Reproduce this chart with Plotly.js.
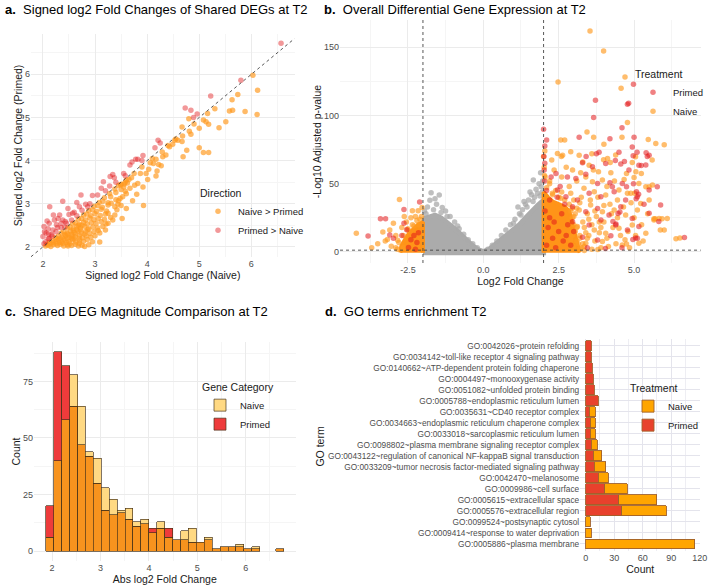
<!DOCTYPE html>
<html><head><meta charset="utf-8">
<script src="https://cdn.plot.ly/plotly-3.0.1.min.js"></script>
<style>html,body{margin:0;padding:0;background:#fff}#chart{width:709px;height:586px}</style>
</head><body><div id="chart"></div>
<script>
// ---------------- Panel a: signed log2FC shared DEGs (Naive x vs Primed y) ----------------
const A_NAIVE_GT_PRIMED = [
[6.12,5.63],[6.03,5.98],[6.11,5.07],[5.88,5.14],[5.74,5.53],[5.63,5.41],[5.58,5.15],[5.64,5.17],[5.51,4.90],[5.38,4.76],
[5.16,5.09],[5.13,4.90],[5.18,4.84],[5.08,4.94],[5.00,4.75],[4.81,4.68],[4.84,4.61],[4.80,4.97],[4.67,4.78],[4.68,4.57],
[4.67,4.44],[4.59,4.47],[4.76,4.24],[4.69,4.09],[5.00,4.30],[5.08,4.19],[5.18,4.19],[4.49,4.38],[4.53,4.47],[4.43,4.32],
[4.30,4.09],[4.36,4.13],[4.29,4.20],[4.17,4.03],[4.12,3.93],[4.06,3.95],[4.03,3.80],[4.22,3.91],[4.27,3.88],[4.19,3.76],
[4.17,3.64],[3.98,3.70],[4.01,3.56],[3.87,3.70],[3.82,3.47],[3.92,3.39],[3.76,3.43],[3.67,3.36],[3.65,3.56],[3.58,3.50],
[3.55,3.39],[3.58,3.29],[3.93,2.96],[3.80,3.22],[3.72,3.07],[3.53,3.16],[3.40,3.09],[3.44,2.99],[3.60,2.89],[3.52,2.66],
[3.31,3.01],[3.25,2.78],[3.34,2.62],[3.09,2.32],[3.09,2.11],[3.21,2.53],[3.20,2.39],[2.80,2.01],[2.70,2.08],[2.48,2.02],
[4.40,4.35],[4.55,4.50],[4.90,4.85],[5.30,5.20],[3.50,3.45],[3.60,3.55],[3.70,3.60],[3.90,3.85],[4.10,4.05],[3.45,3.42],
[3.62,3.48],[3.75,3.70],
[2.05,2.02],[2.10,2.04],[2.15,2.01],[2.20,2.05],[2.28,2.03],[2.33,2.06],[2.40,2.02],[2.47,2.05],[2.55,2.03],[2.62,2.06],
[2.68,2.02],[2.75,2.04],[2.88,2.05],
[2.12,2.10],[2.18,2.14],[2.25,2.12],[2.30,2.16],[2.36,2.11],[2.42,2.15],[2.50,2.12],[2.57,2.17],[2.63,2.11],[2.70,2.15],
[2.78,2.13],[2.85,2.17],[2.95,2.12],
[2.24,2.21],[2.30,2.25],[2.37,2.22],[2.44,2.26],[2.50,2.21],[2.56,2.25],[2.62,2.23],[2.70,2.27],[2.76,2.21],[2.83,2.25],
[2.92,2.22],[3.00,2.26],
[2.35,2.32],[2.40,2.35],[2.46,2.31],[2.53,2.36],[2.60,2.33],[2.67,2.37],[2.74,2.32],[2.82,2.36],[2.90,2.31],[2.98,2.35],[3.06,2.38],
[2.47,2.43],[2.52,2.46],[2.58,2.42],[2.65,2.47],[2.72,2.44],[2.80,2.48],[2.88,2.42],[2.96,2.46],[3.05,2.44],[3.15,2.47],
[2.57,2.54],[2.62,2.56],[2.70,2.52],[2.78,2.57],[2.85,2.53],[2.93,2.56],[3.02,2.54],[3.12,2.58],[3.25,2.55],
[2.68,2.64],[2.74,2.66],[2.82,2.62],[2.90,2.67],[2.98,2.63],[3.06,2.66],[3.18,2.64],[3.30,2.68],
[2.78,2.74],[2.84,2.76],[2.92,2.72],[3.00,2.77],[3.10,2.73],[3.20,2.76],[3.38,2.74],
[2.88,2.84],[2.95,2.86],[3.03,2.82],[3.12,2.87],[3.22,2.83],[3.42,2.86],
[2.98,2.94],[3.05,2.96],[3.14,2.92],[3.25,2.97],[3.38,2.93],[3.50,2.96],
[3.08,3.03],[3.15,3.06],[3.25,3.02],[3.45,3.07],
[3.18,3.14],[3.30,3.16],[3.48,3.12],
[3.28,3.24],[3.40,3.26],[3.60,3.23],
[3.38,3.34],[3.50,3.33],[3.49,3.44],[3.56,3.46],
[2.08,2.06],[2.14,2.08],[2.20,2.10],[2.25,2.07],[2.32,2.10],[2.38,2.08],[2.45,2.10],[2.52,2.08],[2.27,2.18],[2.33,2.20],
[2.40,2.18],[2.47,2.20],[2.55,2.20],[2.60,2.18],[2.42,2.28],[2.48,2.30],[2.55,2.29],[2.63,2.30],[2.70,2.20],[2.58,2.38],
[2.65,2.40],[2.72,2.39],[2.80,2.30],[2.68,2.50],[2.75,2.50],[2.86,2.40]
];
const A_PRIMED_GT_NAIVE = [
[6.57,6.72],[5.80,5.86],[5.22,5.50],[4.73,5.22],[4.84,5.17],[4.96,5.08],[4.89,5.00],[4.21,4.47],[4.25,4.41],[3.78,4.03],
[3.82,4.03],[3.92,4.12],[3.71,3.97],[3.67,3.90],[3.34,3.68],[3.37,3.60],[3.58,3.65],[3.16,3.51],[3.28,3.41],[3.29,3.63],
[2.95,3.19],[3.12,3.36],[2.73,3.20],[2.65,3.03],[2.70,2.93],[2.38,3.06],[2.57,2.78],[2.32,2.74],[2.48,2.89],[2.13,2.93],
[2.20,2.74],[2.29,2.66],[2.43,2.59],[2.02,2.47],[2.06,2.32],[2.19,2.39],[2.26,2.51],[2.00,2.24],[2.10,2.19],[2.16,2.28],
[2.82,2.99],[2.86,2.93],
[2.05,2.12],[2.12,2.20],[2.18,2.25],[2.25,2.35],[2.35,2.45],[2.45,2.55],[2.55,2.62],[2.65,2.72],[2.75,2.85],[2.90,3.00],
[3.05,3.20],[2.03,2.35],[2.10,2.42],[2.35,2.55],[2.50,2.75],[2.60,2.80],[2.12,2.55],[2.22,2.62],[2.08,2.60],[2.28,2.45],
[2.38,2.62],[3.20,3.30],[3.40,3.50],[3.55,3.70],[3.90,4.00],[4.15,4.30],[2.02,2.07],[2.11,2.30],[2.42,2.46]
];

// ---------------- Panel b: volcano (log2FC, -log10 padj) ----------------
const B_NS_CORE_X = [-2.0,-1.8,-1.6,-1.4,-1.2,-1.0,-0.8,-0.6,-0.4,-0.2,0,0.2,0.4,0.6,0.8,1.0,1.2,1.4,1.6,1.8,2.0,2.0,-2.0];
const B_NS_CORE_Y = [24,26,27,25,22,18,14,9.5,5.5,2,0.3,2,5.5,9.5,13,16,20,25,30,34,38,-0.5,-0.5];
const B_NS_POINTS = [
[-1.73,43.4],[-1.46,41.7],[-1.77,37.8],[-1.60,39],[-1.36,32.5],[-1.55,35],[-1.85,33],[-1.95,30],[-1.25,30],[-1.10,26],
[-0.95,22],[-0.80,17],[-0.65,13],[-1.65,31],[-1.40,29],[-0.50,9],[-0.35,6],[-0.20,3],[-1.90,28],[-1.20,26],[-0.85,19],
[1.66,52.7],[1.92,47.8],[1.96,44],[1.90,58],[1.85,50],[1.75,46],[1.60,42],[1.50,38],[1.40,35],[1.30,31],[1.20,28],
[1.05,24],[0.90,20],[0.75,16],[0.60,12],[0.45,8],[0.30,5],[0.15,2],[1.80,43],[1.70,40],[1.97,52],[1.55,44],[1.35,37],
[1.15,33],[1.00,21],[1.25,27],[1.45,33],[1.65,37],[1.88,41]
];
const B_NAIVE_CORE_R_X = [2.0,2.0,2.15,2.3,2.5,2.7,2.85,2.95,3.05,3.15,3.2];
const B_NAIVE_CORE_R_Y = [-0.5,44,40,37,35,33,30,20,10,3,-0.5];
const B_NAIVE_CORE_L_X = [-2.0,-2.0,-2.15,-2.3,-2.45,-2.6,-2.72,-2.75];
const B_NAIVE_CORE_L_Y = [-0.5,22,20,17,14,9,4,-0.5];
const B_NAIVE_POINTS = [
[3.54,161.9],[3.99,147.3],[2.48,124.6],[4.70,128.3],[4.57,120.0],[4.78,94.9],[5.47,82.4],[5.72,79.5],[6.00,78.5],[2.57,82],
[2.70,82],[3.44,88],[4.60,84],[3.66,84],[4.00,79],[2.04,74],[2.00,70],[2.27,67.4],[2.59,70],[3.18,70.8],[3.99,67.5],
[4.21,65.6],[4.94,65.5],[5.24,57.5],[5.50,47.8],[5.66,24.4],[5.70,24.4],[5.93,24.4],[5.87,16],[6.39,9.7],[6.52,10.2],
[4.75,5.8],[5.02,43],[2.46,72.2],[2.63,70.9],[2.90,73.4],[4.39,71],[4.12,68.5],[5.05,69.8],[5.60,67.3],[3.51,63.6],
[3.82,58.7],[4.23,58],[4.75,57.5],[5.06,58.7],[2.96,60],[3.23,58],[3.62,51.4],[3.95,52.7],[4.67,53.1],[5.00,54.6],
[5.16,50.2],[5.39,47.8],[5.61,49],[4.78,43],[2.29,43],[2.57,39.3],[2.90,43],[3.34,46.6],[3.68,44.1],[4.06,41.7],
[4.50,45.4],[4.89,43],[5.22,35.6],[5.50,38.1],[3.18,30.7],[3.56,34.4],[3.95,29.5],[4.34,30.7],[4.72,27],[5.11,30.7],
[5.66,23.4],[5.83,24.6],[6.00,16],[6.10,24.6],[3.12,18.6],[3.68,16.1],[4.06,13.7],[4.50,17.4],[4.94,19.8],[5.39,13.7],
[2.90,8.8],[3.40,6.4],[3.95,7.6],[4.61,5.1],[5.16,6.4],[3.20,2.5],[3.80,1.8],
[2.95,25],[3.05,15],[3.10,32],[3.20,10],[3.30,22],[3.35,4],[3.45,28],[3.50,12],[3.60,20],[3.70,8],[3.75,26],[3.85,14],
[3.90,3],[4.00,22],[4.10,10],[4.20,35],[4.30,18],[4.40,6],[4.45,25],[4.55,12],[4.65,33],[4.80,15],[4.85,3],[5.00,25],
[5.05,12],[5.25,20],[5.30,8],[5.45,28],[3.00,38],[3.25,40],[3.55,38],[3.80,40],[4.10,48],[4.35,52],[2.85,48],[3.10,52],
[3.40,55],[3.65,60],[2.60,55],[2.75,62],[3.30,66],[3.60,72],[2.35,60],[2.20,52],[3.00,4],[3.15,6],[3.40,14],[3.60,2],
[3.90,18],[4.15,4],[4.25,28],[4.70,9],[2.95,12],[3.05,28],[3.20,36],[3.35,18],[3.50,24],[3.70,30],[4.00,34],[3.85,22],
[4.45,38],[4.90,36],[2.90,30],[3.00,20],[3.10,8],[3.25,3],[2.92,2],[3.45,10],[2.02,62],[2.03,56],
[2.10,47],[2.30,42],[2.50,40],[2.70,38],[2.85,35],[3.00,26],[3.10,18],[3.20,12],[3.30,6],[3.35,1],[2.20,50],[2.40,45],
[2.60,44],[2.05,55],[2.95,32],
[-4.21,13.7],[-2.78,38.5],[-2.35,30.2],[-2.16,30.2],[-2.03,32.6],[-3.33,14.6],[-2.98,21],[-3.10,16],[-3.18,9.1],[-3.05,4.2],
[-2.62,26],[-2.84,8.6],[-3.50,6],[-2.90,12],[-2.70,18],[-2.55,22],[-2.40,25],[-2.25,26],[-2.10,24],[-3.70,3],[-2.65,3],
[-2.90,3],[-3.25,8],[-2.50,17],[-2.30,19],[-2.15,20],[-2.05,26],[-2.20,23],[-2.35,20],[-2.50,16],[-2.65,12],[-2.80,7],[-2.85,2]
];
const B_PRIMED_POINTS = [
[4.98,122.9],[3.72,111.2],[4.78,108.3],[4.82,109],[3.66,98.5],[2.00,90],[4.60,91],[5.00,84],[3.18,84],[4.20,83],
[2.10,82],[2.04,77.7],[4.94,77],[5.40,72.7],[5.50,70.8],[5.24,63.3],[5.39,63.8],[4.97,70.5],[3.75,72],[3.41,70],
[4.38,67],[4.68,66.3],[5.33,35],[5.82,22.4],[4.96,9.2],[5.05,10.2],[5.15,42.3],[5.07,39],[4.98,50],[4.53,29.2],
[4.47,28.2],[4.30,22.4],[4.40,20.4],[3.84,73],[4.50,73],[5.10,73],[5.44,70],[3.29,65.3],[3.62,62.4],[4.06,64.9],
[4.56,64.4],[4.83,60],[5.16,63.6],[2.41,57.5],[2.79,55],[3.07,53.9],[3.40,57],[3.79,50.2],[4.20,50.7],[4.28,47.8],
[4.61,50.2],[4.75,47.8],[5.08,44.1],[5.50,45.4],[5.77,47.8],[2.46,45.4],[2.74,40.5],[3.12,38.1],[3.51,43],[3.90,40.5],
[4.34,44.1],[4.72,38.1],[5.11,40.5],[2.96,33.2],[3.40,29.5],[3.79,31.9],[4.17,27],[4.56,33.2],[4.94,24.6],[5.50,28.3],
[5.88,34.4],[2.96,22.2],[3.51,19.8],[3.90,23.4],[4.39,19.8],[4.78,16],[5.16,18.6],[3.29,10.8],[3.79,8.8],[4.23,11.8],
[5.11,10.1],[6.67,10.5],[3.45,3],[4.05,2.5],[4.60,3],
[2.05,30],[2.10,45],[2.20,38],[2.35,22],[2.50,15],[2.60,28],[2.30,10],[2.15,18],[2.70,35],[2.45,40],[2.03,52],[2.02,60],
[2.04,65],[2.25,55],[2.10,5],[2.40,3],[2.65,8],[2.80,20],[2.55,48],[2.01,70],[2.20,25],[2.75,12],[2.90,5],[3.00,15],
[-3.82,11.7],[-3.41,24.4],[-3.24,24.4],[-2.63,31.2],[-2.11,36.6],[-2.48,3.2],[-2.63,21.1],[-2.54,16.2],[-2.98,10],[-2.30,12],
[-2.20,7],[-2.40,9],[-2.15,14],[-2.70,12],[-3.10,12.5],[-2.25,2]
];
const FC_THRESHOLD = 2;
const PADJ_THRESHOLD_LOG = 1.3;

// ---------------- Panel c: histogram of |log2FC| ----------------
const C_BIN_CENTERS = [1.952,2.116,2.279,2.443,2.607,2.770,2.934,3.098,3.261,3.425,3.589,3.752,3.916,4.080,4.244,
  4.407,4.571,4.735,4.898,5.062,5.226,5.389,5.553,5.717,5.880,6.044,6.208,6.371,6.535,6.699];
const C_BIN_WIDTH = 0.1637;
const C_NAIVE  = [6,40,58,78,64,44,41,28,23,18,19,13,14,8,13,6,5,9,10,4,6,1,2,2,3,1,2,0,0,1];
const C_PRIMED = [20,88,82,64,47,42,30,18,16,17,14,11,12,10,10,10,5,5,4,4,5,1,2,2,2,1,1,0,0,1];

// ---------------- Panel d: GO terms ----------------
const GO_TERMS = [
"GO:0042026~protein refolding",
"GO:0034142~toll-like receptor 4 signaling pathway",
"GO:0140662~ATP-dependent protein folding chaperone",
"GO:0004497~monooxygenase activity",
"GO:0051082~unfolded protein binding",
"GO:0005788~endoplasmic reticulum lumen",
"GO:0035631~CD40 receptor complex",
"GO:0034663~endoplasmic reticulum chaperone complex",
"GO:0033018~sarcoplasmic reticulum lumen",
"GO:0098802~plasma membrane signaling receptor complex",
"GO:0043122~regulation of canonical NF-kappaB signal transduction",
"GO:0033209~tumor necrosis factor-mediated signaling pathway",
"GO:0042470~melanosome",
"GO:0009986~cell surface",
"GO:0005615~extracellular space",
"GO:0005576~extracellular region",
"GO:0099524~postsynaptic cytosol",
"GO:0009414~response to water deprivation",
"GO:0005886~plasma membrane"];
const GO_PRIMED = [6,6,7,8,9,13,4,5,5,6,8,9,13,20,35,38,0,0,0];
const GO_NAIVE  = [0,0,0,0,0,0,6,5,5,6,9,12,11,24,40,47,5,6,115];

// ---------------- helpers ----------------
const W = 709, H = 586;
const fx = p => p / W, fy = p => 1 - p / H;
const xs = pts => pts.map(p => p[0]), ys = pts => pts.map(p => p[1]);
const nz = arr => arr.map(v => v > 0 ? v : null);
const FONT = 'Liberation Sans, Arial, Helvetica, sans-serif';
const ORANGE = '#FF9A1F', RED = '#E31A1C', GREY = '#A9A9A9';

const A_XR = [1.77, 6.83], A_YR = [1.765, 6.935];

const traces = [];
// a
traces.push({type:'scatter', mode:'markers', x:xs(A_NAIVE_GT_PRIMED), y:ys(A_NAIVE_GT_PRIMED), xaxis:'x', yaxis:'y',
  name:'Naive > Primed', legend:'legend', marker:{color:ORANGE, size:5.5, opacity:0.68}, hoverinfo:'skip'});
traces.push({type:'scatter', mode:'markers', x:xs(A_PRIMED_GT_NAIVE), y:ys(A_PRIMED_GT_NAIVE), xaxis:'x', yaxis:'y',
  name:'Primed > Naive', legend:'legend', marker:{color:RED, size:5.5, opacity:0.45}, hoverinfo:'skip'});
// b
traces.push({type:'scatter', mode:'lines', x:B_NS_CORE_X, y:B_NS_CORE_Y, fill:'toself', fillcolor:'#ABABAB',
  line:{color:'#ABABAB', width:5}, xaxis:'x2', yaxis:'y2', showlegend:false, hoverinfo:'skip'});
traces.push({type:'scatter', mode:'markers', x:xs(B_NS_POINTS), y:ys(B_NS_POINTS), xaxis:'x2', yaxis:'y2',
  showlegend:false, marker:{color:GREY, size:5.5, opacity:0.75}, hoverinfo:'skip'});
traces.push({type:'scatter', mode:'lines', x:B_NAIVE_CORE_R_X, y:B_NAIVE_CORE_R_Y, fill:'toself', fillcolor:'#FF9418',
  line:{color:'#FF9418', width:4}, xaxis:'x2', yaxis:'y2', showlegend:false, hoverinfo:'skip'});
traces.push({type:'scatter', mode:'lines', x:B_NAIVE_CORE_L_X, y:B_NAIVE_CORE_L_Y, fill:'toself', fillcolor:'#FF9418',
  line:{color:'#FF9418', width:4}, xaxis:'x2', yaxis:'y2', showlegend:false, hoverinfo:'skip'});
traces.push({type:'scatter', mode:'markers', x:xs(B_NAIVE_POINTS), y:ys(B_NAIVE_POINTS), xaxis:'x2', yaxis:'y2',
  name:'Naive', legend:'legend2', marker:{color:ORANGE, size:5.5, opacity:0.65}, hoverinfo:'skip'});
traces.push({type:'scatter', mode:'markers', x:xs(B_PRIMED_POINTS), y:ys(B_PRIMED_POINTS), xaxis:'x2', yaxis:'y2',
  name:'Primed', legend:'legend2', marker:{color:RED, size:5.5, opacity:0.55}, hoverinfo:'skip'});
// c
const cBase = C_NAIVE.map((v,i) => Math.min(v, C_PRIMED[i]));
const cNaiveExtra = C_NAIVE.map((v,i) => Math.max(v - C_PRIMED[i], 0));
const cPrimedExtra = C_PRIMED.map((v,i) => Math.max(v - C_NAIVE[i], 0));
const HLINE = {color:'rgba(70,50,25,0.85)', width:0.8};
traces.push({type:'bar', x:C_BIN_CENTERS, y:nz(cBase), width:C_BIN_WIDTH, xaxis:'x3', yaxis:'y3', showlegend:false,
  marker:{color:'#F7931E', line:HLINE}, hoverinfo:'skip'});
traces.push({type:'bar', x:C_BIN_CENTERS, y:nz(cNaiveExtra), width:C_BIN_WIDTH, xaxis:'x3', yaxis:'y3', name:'Naive',
  legend:'legend3', marker:{color:'#FFD983', line:HLINE}, hoverinfo:'skip'});
traces.push({type:'bar', x:C_BIN_CENTERS, y:nz(cPrimedExtra), width:C_BIN_WIDTH, xaxis:'x3', yaxis:'y3', name:'Primed',
  legend:'legend3', marker:{color:'#EE3B3B', line:HLINE}, hoverinfo:'skip'});
// d
const DLINE = {color:'#A0602A', width:0.9};
traces.push({type:'bar', orientation:'h', y:GO_TERMS, x:nz(GO_PRIMED), width:0.9, xaxis:'x4', yaxis:'y4', name:'Primed',
  legend:'legend4', marker:{color:'#E8412C', line:DLINE}, hoverinfo:'skip'});
traces.push({type:'bar', orientation:'h', y:GO_TERMS, x:nz(GO_NAIVE), width:0.9, xaxis:'x4', yaxis:'y4', name:'Naive',
  legend:'legend4', marker:{color:'#FFA500', line:DLINE}, hoverinfo:'skip'});

const TICKF = {family:FONT, size:9, color:'#4D4D4D'};
const TITLEF = {family:FONT, size:10.5, color:'#1A1A1A'};
const GRID = '#EBEBEB', MINOR = '#F5F5F5';
function ax(extra){
  return Object.assign({showline:false, zeroline:false, ticks:'', showgrid:true, gridcolor:GRID, gridwidth:1,
    tickfont:TICKF, automargin:false, fixedrange:true}, extra);
}
function leg(x, y, title, order){
  return {x:fx(x), y:fy(y), xanchor:'left', yanchor:'top', bgcolor:'rgba(0,0,0,0)', borderwidth:0,
    title:{text:title, font:{family:FONT, size:10.5, color:'#1A1A1A'}}, font:{family:FONT, size:9.5, color:'#1A1A1A'},
    tracegroupgap:0, itemwidth:30, traceorder:order};
}
const dash = {color:'#444', width:0.9, dash:'3px,3px'};

const layout = {
  width:W, height:H, margin:{l:0, r:0, t:0, b:0}, paper_bgcolor:'#fff', plot_bgcolor:'#fff',
  font:{family:FONT}, barmode:'stack',
  xaxis: ax({domain:[fx(31), fx(295)], range:A_XR, dtick:1, minor:{dtick:0.5, showgrid:true, gridcolor:MINOR},
    title:{text:'Signed log2 Fold Change (Naive)', font:TITLEF, standoff:3}}),
  yaxis: ax({domain:[fy(257), fy(34)], range:A_YR, dtick:1, minor:{dtick:0.5, showgrid:true, gridcolor:MINOR},
    title:{text:'Signed log2 Fold Change (Primed)', font:TITLEF, standoff:0}}),
  xaxis2: ax({anchor:'y2', domain:[fx(340.5), fx(701.7)], range:[-4.75,7.21], tickvals:[-2.5,0,2.5,5],
    ticktext:['-2.5','0.0','2.5','5.0'], minor:{dtick:1.25, showgrid:true, gridcolor:MINOR},
    title:{text:'Log2 Fold Change', font:TITLEF, standoff:3}}),
  yaxis2: ax({anchor:'x2', domain:[fy(263), fy(20)], range:[-8.1,170], dtick:50, minor:{dtick:25, showgrid:true, gridcolor:MINOR},
    title:{text:'-Log10 Adjusted p-value', font:TITLEF, standoff:0}}),
  xaxis3: ax({anchor:'y3', domain:[fx(34), fx(296)], range:[1.625,7.03], tickvals:[2,3,4,5,6],
    minor:{tickvals:[2.5,3.5,4.5,5.5,6.5], showgrid:true, gridcolor:MINOR},
    title:{text:'Abs log2 Fold Change', font:TITLEF, standoff:3}}),
  yaxis3: ax({anchor:'x3', domain:[fy(561), fy(342)], range:[-4.4,92.4], dtick:25, minor:{dtick:12.5, showgrid:true, gridcolor:MINOR},
    title:{text:'Count', font:TITLEF, standoff:0}}),
  xaxis4: ax({anchor:'y4', domain:[fx(581), fx(701.4)], range:[-5.75,120.75], dtick:30, minor:{dtick:15, showgrid:true, gridcolor:'#EEEEF3'},
    gridcolor:'#E4E4EC', title:{text:'Count', font:TITLEF, standoff:3}}),
  yaxis4: ax({anchor:'x4', domain:[fy(550.6), fy(339)], type:'category', categoryorder:'array', categoryarray:GO_TERMS,
    range:[18.6,-0.6], gridcolor:'#E4E4EC', tickfont:{family:FONT, size:8.3, color:'#4D4D4D'}}),
  legend: leg(198, 183, 'Direction', 'normal'),
  legend2: leg(634, 64, 'Treatment', 'reversed'),
  legend3: leg(200, 377, 'Gene Category', 'normal'),
  legend4: leg(628, 378, 'Treatment', 'reversed'),
  shapes: [
    {type:'line', xref:'x', yref:'y', x0:A_XR[0], y0:A_XR[0], x1:A_XR[1], y1:A_XR[1], line:dash},
    {type:'line', xref:'x2', yref:'y2 domain', x0:-FC_THRESHOLD, x1:-FC_THRESHOLD, y0:0, y1:1, line:dash},
    {type:'line', xref:'x2', yref:'y2 domain', x0:FC_THRESHOLD, x1:FC_THRESHOLD, y0:0, y1:1, line:dash},
    {type:'line', xref:'x2 domain', yref:'y2', x0:0, x1:1, y0:PADJ_THRESHOLD_LOG, y1:PADJ_THRESHOLD_LOG, line:dash}
  ],
  annotations: [
    {text:'<b>a.</b>\u00a0\u00a0Signed log2 Fold Changes of Shared DEGs at T2', x:fx(3), y:fy(9)},
    {text:'<b>b.</b>\u00a0\u00a0Overall Differential Gene Expression at T2', x:fx(322), y:fy(9)},
    {text:'<b>c.</b>\u00a0\u00a0Shared DEG Magnitude Comparison at T2', x:fx(3), y:fy(311)},
    {text:'<b>d.</b>\u00a0\u00a0GO terms enrichment T2', x:fx(323), y:fy(311)}
  ].map(a => Object.assign({xref:'paper', yref:'paper', xanchor:'left', yanchor:'middle', showarrow:false,
    font:{family:FONT, size:13, color:'#000'}}, a)).concat([
    {text:'GO term', xref:'paper', yref:'paper', x:fx(320), y:fy(446), xanchor:'center', yanchor:'middle',
     textangle:-90, showarrow:false, font:TITLEF}
  ])
};

Plotly.newPlot('chart', traces, layout, {displayModeBar:false, staticPlot:true});
</script></body></html>
